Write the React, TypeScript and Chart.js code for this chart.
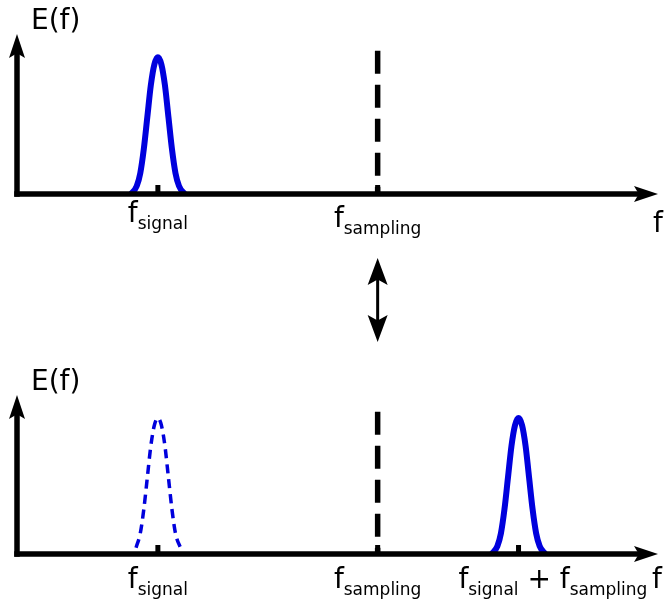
import React, { useEffect, useRef } from "react";
import { Chart, registerables } from "chart.js";

Chart.register(...registerables);

// ---------------- data ----------------
const F_SIGNAL = 2.0;
const F_SAMPLING = 5.12;
const F_SUM = 7.12; // f_signal + f_sampling
const X_MAX = 9.1;
const Y_MAX = 1;

// pulse shape (offset from centre, height)
const pulseOffsets = [-0.38, -0.3, -0.25, -0.2, -0.15, -0.1, -0.05, 0, 0.05, 0.1, 0.15, 0.2, 0.25, 0.3, 0.38];
const pulseHeights = [0, 0.05, 0.13, 0.28, 0.48, 0.68, 0.81, 0.855, 0.81, 0.68, 0.48, 0.28, 0.13, 0.05, 0];

// dashed (aliased) pulse, visible part
const ghostOffsets = [-0.31, -0.25, -0.2, -0.15, -0.1, -0.05, 0, 0.05, 0.1, 0.15, 0.2, 0.25, 0.33];
const ghostHeights = [0.04, 0.13, 0.28, 0.48, 0.68, 0.81, 0.855, 0.81, 0.68, 0.48, 0.28, 0.13, 0.03];

// dashed sampling line (top -> bottom)
const samplingLine = [0.895, 0];

const Y_LABEL = "E(f)";
const X_LABEL = "f";
const SIGNAL_LABEL = ["f", "signal"];
const SAMPLING_LABEL = ["f", "sampling"];

// ---------------- style ----------------
const BLUE = "#0000dd";
const FONT = '"DejaVu Sans", Verdana, sans-serif';
const MAIN_SIZE = 28;
const SUB_SIZE = 17;

function arrowHead(ctx: CanvasRenderingContext2D, tx: number, ty: number, dx: number, dy: number, len: number, half: number) {
  const bx = tx - dx * len;
  const by = ty - dy * len;
  const px = -dy;
  const py = dx;
  const notch = len * 0.2;
  ctx.beginPath();
  ctx.moveTo(tx, ty);
  ctx.lineTo(bx + px * half, by + py * half);
  ctx.lineTo(bx + dx * notch, by + dy * notch);
  ctx.lineTo(bx - px * half, by - py * half);
  ctx.closePath();
  ctx.fill();
}

type Part = { t: string; sub?: boolean };

function partsWidth(ctx: CanvasRenderingContext2D, parts: Part[]) {
  let w = 0;
  for (const p of parts) {
    ctx.font = `${p.sub ? SUB_SIZE : MAIN_SIZE}px ${FONT}`;
    w += ctx.measureText(p.t).width;
  }
  return w;
}

function drawParts(ctx: CanvasRenderingContext2D, parts: Part[], x: number, baseline: number) {
  let cx = x;
  ctx.textAlign = "left";
  ctx.textBaseline = "alphabetic";
  for (const p of parts) {
    ctx.font = `${p.sub ? SUB_SIZE : MAIN_SIZE}px ${FONT}`;
    ctx.fillText(p.t, cx, p.sub ? baseline + 7 : baseline);
    cx += ctx.measureText(p.t).width;
  }
}

const sigParts: Part[] = [{ t: SIGNAL_LABEL[0] }, { t: SIGNAL_LABEL[1], sub: true }];
const sampParts: Part[] = [{ t: SAMPLING_LABEL[0] }, { t: SAMPLING_LABEL[1], sub: true }];

function panelPlugin(panel: "top" | "bottom") {
  return {
    id: "panel_" + panel,
    afterDatasetsDraw(chart: any) {
      const { ctx, scales } = chart;
      const xs = scales.x;
      const ys = scales.y;
      const x0 = xs.getPixelForValue(0);
      const yb = ys.getPixelForValue(0);
      const yTip = ys.getPixelForValue(Y_MAX);
      const xTip = xs.getPixelForValue(X_MAX);
      ctx.save();
      ctx.fillStyle = "#000";
      ctx.strokeStyle = "#000";
      ctx.lineCap = "butt";
      ctx.lineWidth = 5.5;
      // y axis
      ctx.beginPath();
      ctx.moveTo(x0, yb + 2.75);
      ctx.lineTo(x0, yTip + 19);
      ctx.stroke();
      arrowHead(ctx, x0, yTip, 0, -1, 24, 8);
      // x axis
      ctx.beginPath();
      ctx.moveTo(x0 - 2.75, yb);
      ctx.lineTo(xTip - 19, yb);
      ctx.stroke();
      arrowHead(ctx, xTip, yb, 1, 0, 24, 8);
      // ticks
      const ticks = panel === "top" ? [F_SIGNAL, F_SAMPLING] : [F_SIGNAL, F_SAMPLING, F_SUM];
      for (const v of ticks) {
        const px = xs.getPixelForValue(v);
        ctx.fillRect(px - 2.5, yb - 9, 5, 9);
      }
      // Y label
      ctx.font = `${MAIN_SIZE}px ${FONT}`;
      ctx.textAlign = "left";
      ctx.textBaseline = "alphabetic";
      ctx.fillText(Y_LABEL, x0 + 14, yTip - 5);

      const sx = xs.getPixelForValue(F_SIGNAL);
      const mx = xs.getPixelForValue(F_SAMPLING);
      if (panel === "top") {
        drawParts(ctx, sigParts, sx - partsWidth(ctx, sigParts) / 2, yb + 28);
        drawParts(ctx, sampParts, mx - partsWidth(ctx, sampParts) / 2, yb + 33);
        ctx.font = `${MAIN_SIZE}px ${FONT}`;
        ctx.fillText(X_LABEL, xTip - 5, yb + 38);
        // double arrow between panels
        const t1 = 258;
        const t2 = 342;
        ctx.lineWidth = 3;
        ctx.beginPath();
        ctx.moveTo(mx, t1 + 20);
        ctx.lineTo(mx, t2 - 20);
        ctx.stroke();
        arrowHead(ctx, mx, t1, 0, -1, 27, 10);
        arrowHead(ctx, mx, t2, 0, 1, 27, 10);
      } else {
        drawParts(ctx, sigParts, sx - partsWidth(ctx, sigParts) / 2, yb + 34);
        drawParts(ctx, sampParts, mx - partsWidth(ctx, sampParts) / 2, yb + 34);
        const ux = xs.getPixelForValue(F_SUM);
        const sumParts: Part[] = [...sigParts, { t: " + " }, ...sampParts];
        drawParts(ctx, sumParts, ux - partsWidth(ctx, sigParts), yb + 34);
        ctx.font = `${MAIN_SIZE}px ${FONT}`;
        ctx.fillText(X_LABEL, xTip - 6, yb + 34);
      }
      ctx.restore();
    },
  };
}

function pulse(center: number, offs: number[], hs: number[]) {
  return offs.map((o, i) => ({ x: center + o, y: hs[i] }));
}

function vline(x: number) {
  return samplingLine.map((y) => ({ x, y }));
}

function buildDatasets(panel: "top" | "bottom") {
  const sampling = {
    data: vline(F_SAMPLING),
    showLine: true,
    borderColor: "#000",
    borderWidth: 5.5,
    borderDash: [23, 11],
    pointRadius: 0,
    tension: 0,
  };
  if (panel === "top") {
    return [
      {
        data: pulse(F_SIGNAL, pulseOffsets, pulseHeights),
        showLine: true,
        borderColor: BLUE,
        borderWidth: 6,
        pointRadius: 0,
        cubicInterpolationMode: "monotone",
      },
      sampling,
    ];
  }
  return [
    {
      data: pulse(F_SIGNAL, ghostOffsets, ghostHeights),
      showLine: true,
      borderColor: BLUE,
      borderWidth: 3.5,
      borderDash: [9, 6],
      pointRadius: 0,
      cubicInterpolationMode: "monotone",
    },
    sampling,
    {
      data: pulse(F_SUM, pulseOffsets, pulseHeights),
      showLine: true,
      borderColor: BLUE,
      borderWidth: 6,
      pointRadius: 0,
      cubicInterpolationMode: "monotone",
    },
  ];
}

function makeChart(canvas: HTMLCanvasElement, panel: "top" | "bottom", padding: any) {
  return new Chart(canvas, {
    type: "scatter",
    data: { datasets: buildDatasets(panel) as any },
    options: {
      responsive: false,
      animation: false,
      events: [],
      layout: { padding },
      plugins: { legend: { display: false }, tooltip: { enabled: false } },
      scales: {
        x: { type: "linear", min: 0, max: X_MAX, display: false },
        y: { type: "linear", min: 0, max: Y_MAX, display: false },
      },
    },
    plugins: [panelPlugin(panel)],
  });
}

export default function App() {
  const topRef = useRef<HTMLCanvasElement>(null);
  const botRef = useRef<HTMLCanvasElement>(null);
  useEffect(() => {
    const c1 = makeChart(topRef.current!, "top", { left: 17, right: 7, top: 34, bottom: 156 });
    const c2 = makeChart(botRef.current!, "bottom", { left: 17, right: 7, top: 45, bottom: 47 });
    return () => {
      c1.destroy();
      c2.destroy();
    };
  }, []);
  return (
    <div style={{ position: "absolute", left: 0, top: 0, width: 665, height: 601, background: "#fff" }}>
      <canvas ref={topRef} width={665} height={350} style={{ position: "absolute", left: 0, top: 0, display: "block" }} />
      <canvas ref={botRef} width={665} height={251} style={{ position: "absolute", left: 0, top: 350, display: "block" }} />
    </div>
  );
}
